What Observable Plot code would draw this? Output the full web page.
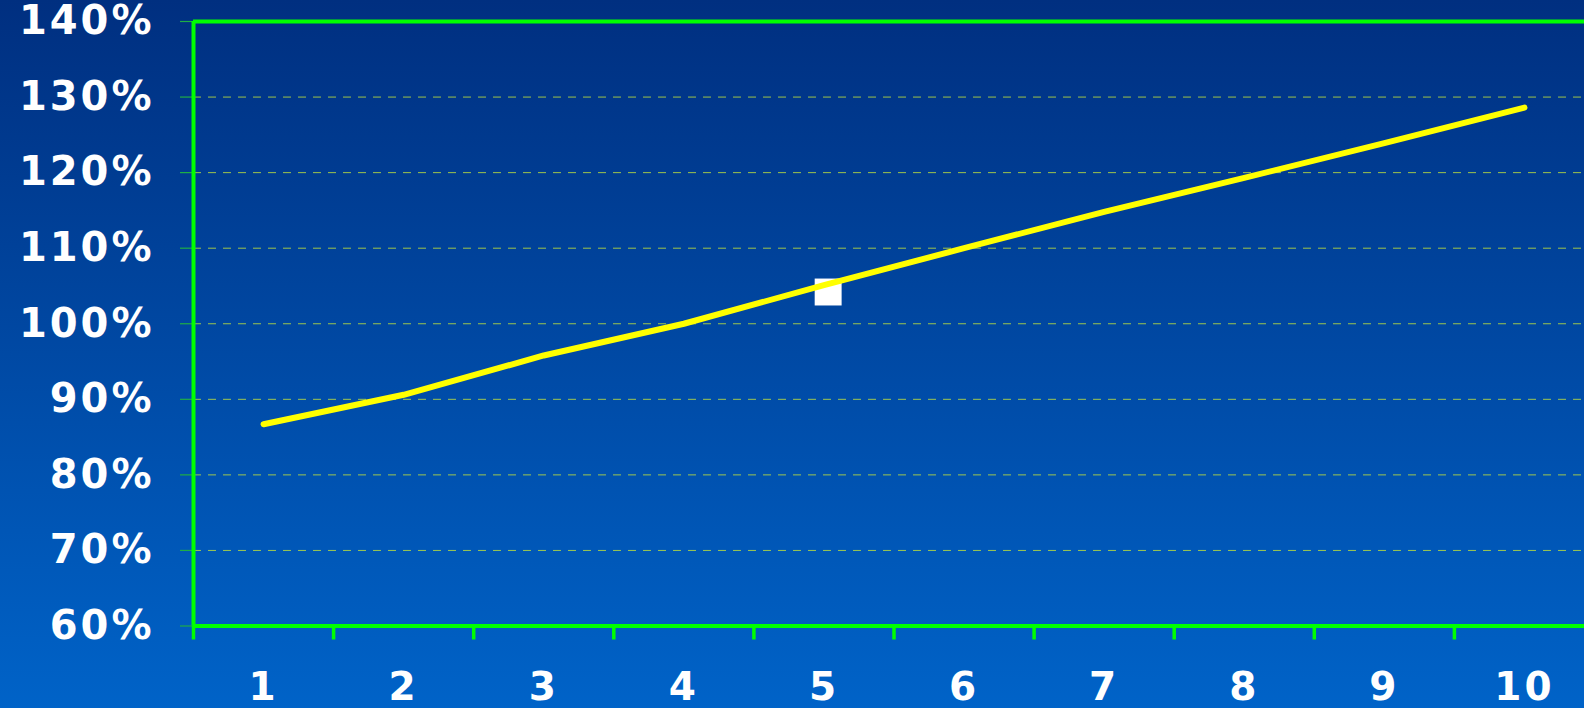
<!DOCTYPE html>
<html>
<head>
<meta charset="utf-8">
<script src="https://cdn.jsdelivr.net/npm/d3@7"></script>
<script src="https://cdn.jsdelivr.net/npm/@observablehq/plot@0.6"></script>
<style>
  html, body { margin: 0; padding: 0; width: 1584px; height: 708px; overflow: hidden;
    background: linear-gradient(to bottom, #002f80 0%, #0063c8 100%); }
  #chart { width: 1600px; }
  #chart svg { max-width: none !important; }
  #chart svg text { letter-spacing: 3px; }
</style>
</head>
<body>
<div id="chart"></div>
<script>
const categories = [1, 2, 3, 4, 5, 6, 7, 8, 9, 10];
const values = [86.7, 90.6, 95.8, 100.0, 105.1, 110.0, 114.8, 119.3, 123.9, 128.6];
const markerX = [5.03];
const markerY = [104.2];
const yTicks = [60, 70, 80, 90, 100, 110, 120, 130, 140];
const gridTicks = [70, 80, 90, 100, 110, 120, 130];
const xBoundaries = [0.5, 1.5, 2.5, 3.5, 4.5, 5.5, 6.5, 7.5, 8.5, 9.5];

const data = categories.map((c, i) => ({x: c, y: values[i]}));
const marker = markerX.map((x, i) => ({x, y: markerY[i]}));

const green = "#00ff00";
const font = "DejaVu Sans, Verdana, sans-serif";

const chart = Plot.plot({
  width: 1600,
  height: 708,
  marginLeft: 193,
  marginRight: 6,
  marginTop: 21,
  marginBottom: 82.5,
  style: {background: "transparent", fontFamily: font, overflow: "visible", maxWidth: "none"},
  x: {type: "linear", domain: [0.5, 10.5]},
  y: {domain: [60, 140]},
  marks: [
    Plot.gridY(gridTicks, {stroke: "#b8dc40", strokeOpacity: 0.85, strokeDasharray: "8,7", strokeWidth: 1}),
    Plot.axisY(yTicks, {
      tickSize: 13, tickPadding: 26, stroke: "#1fae45", strokeWidth: 1.2,
      fill: "white", fontSize: 40, fontWeight: "bold", label: null,
      tickFormat: d => d + "%"
    }),
    Plot.axisX(xBoundaries, {tickSize: 14, stroke: green, strokeWidth: 3.5, tickFormat: () => "", label: null}),
    Plot.axisX(categories, {
      tickSize: 0, tickPadding: 46, fill: "white", fontSize: 39, fontWeight: "bold",
      label: null, tickFormat: d => String(d)
    }),
    Plot.ruleX([0.5], {y1: 60, y2: 140, stroke: green, strokeWidth: 4}),
    Plot.ruleY([140], {stroke: green, strokeWidth: 4}),
    Plot.ruleY([60], {stroke: green, strokeWidth: 4}),
    Plot.dot(marker, {x: "x", y: "y", symbol: "square", r: 15.2, fill: "white", stroke: "none"}),
    Plot.line(data, {x: "x", y: "y", stroke: "#ffff00", strokeWidth: 6, strokeLinecap: "round", strokeLinejoin: "round"})
  ]
});
document.getElementById("chart").appendChild(chart);
</script>
</body>
</html>
